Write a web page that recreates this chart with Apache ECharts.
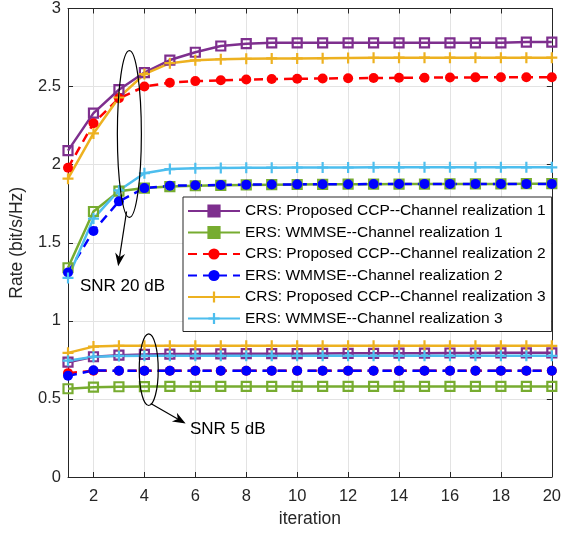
<!DOCTYPE html>
<html><head><meta charset="utf-8">
<script src="https://cdn.jsdelivr.net/npm/echarts@6/dist/echarts.min.js"></script>
<style>html,body{margin:0;padding:0;background:#fff}#c{width:564px;height:533px}</style>
</head><body><div id="c"></div><script>
const iterations = [1,2,3,4,5,6,7,8,9,10,11,12,13,14,15,16,17,18,19,20];
const xTicks = [2,4,6,8,10,12,14,16,18,20];
const yTicks = [0,0.5,1,1.5,2,2.5,3];
const seriesNames = [
  'CRS: Proposed CCP--Channel realization 1',
  'ERS: WMMSE--Channel realization 1',
  'CRS: Proposed CCP--Channel realization 2',
  'ERS: WMMSE--Channel realization 2',
  'CRS: Proposed CCP--Channel realization 3',
  'ERS: WMMSE--Channel realization 3'
];
// SNR 20 dB
const crs1_20 = [2.09,2.33,2.48,2.59,2.67,2.72,2.76,2.775,2.78,2.78,2.78,2.78,2.78,2.78,2.78,2.78,2.78,2.78,2.785,2.785];
const ers1_20 = [1.34,1.70,1.83,1.85,1.86,1.865,1.868,1.87,1.872,1.873,1.874,1.875,1.875,1.876,1.876,1.877,1.877,1.877,1.878,1.878];
const crs2_20 = [1.98,2.265,2.425,2.50,2.525,2.535,2.54,2.545,2.548,2.55,2.552,2.553,2.555,2.556,2.557,2.558,2.559,2.56,2.56,2.56];
const ers2_20 = [1.31,1.575,1.765,1.85,1.865,1.868,1.87,1.872,1.873,1.874,1.875,1.875,1.876,1.876,1.877,1.877,1.877,1.877,1.877,1.877];
const crs3_20 = [1.91,2.20,2.43,2.58,2.65,2.668,2.675,2.678,2.68,2.68,2.682,2.683,2.684,2.685,2.685,2.685,2.685,2.685,2.685,2.685];
const ers3_20 = [1.275,1.655,1.835,1.945,1.972,1.977,1.979,1.98,1.981,1.982,1.982,1.982,1.983,1.983,1.983,1.983,1.983,1.983,1.983,1.983];
// SNR 5 dB
const crs1_5 = [0.735,0.77,0.78,0.785,0.787,0.788,0.789,0.79,0.79,0.79,0.791,0.792,0.792,0.793,0.793,0.794,0.794,0.795,0.795,0.795];
const ers1_5 = [0.565,0.575,0.578,0.579,0.58,0.58,0.58,0.58,0.58,0.58,0.58,0.58,0.58,0.58,0.58,0.58,0.58,0.58,0.58,0.58];
const crs2_5 = [0.665,0.68,0.68,0.68,0.68,0.68,0.68,0.68,0.68,0.68,0.68,0.68,0.68,0.68,0.68,0.68,0.68,0.68,0.68,0.68];
const ers2_5 = [0.648,0.683,0.68,0.68,0.68,0.68,0.68,0.68,0.68,0.68,0.68,0.68,0.68,0.68,0.68,0.68,0.68,0.68,0.68,0.68];
const crs3_5 = [0.795,0.835,0.84,0.84,0.84,0.84,0.84,0.84,0.84,0.84,0.84,0.84,0.84,0.84,0.84,0.84,0.84,0.84,0.84,0.84];
const ers3_5 = [0.745,0.77,0.775,0.776,0.776,0.776,0.776,0.776,0.776,0.776,0.776,0.776,0.776,0.776,0.776,0.776,0.776,0.776,0.776,0.776];

const colors = ['#7E2F8E','#77AC30','#FF0000','#0000FF','#EDB120','#4DBEEE'];
const PLUS = 'path://M4,0H6V4H10V6H6V10H4V6H0V4H4Z';
const styles = [
  {symbol:'rect', size:9, hollow:true, dash:'solid'},
  {symbol:'rect', size:9, hollow:true, dash:'solid'},
  {symbol:'circle', size:10, hollow:false, dash:[9,6]},
  {symbol:'circle', size:10, hollow:false, dash:[9,6]},
  {symbol:PLUS, size:11, hollow:false, dash:'solid'},
  {symbol:PLUS, size:11, hollow:false, dash:'solid'}
];
const data20 = [crs1_20, ers1_20, crs2_20, ers2_20, crs3_20, ers3_20];
const data5 = [crs1_5, ers1_5, crs2_5, ers2_5, crs3_5, ers3_5];

function mk(i, vals){
  const st = styles[i];
  return {
    type:'line', name: seriesNames[i], clip:false, animation:false,
    data: iterations.map((x,k)=>[x, vals[k]]),
    symbol: st.symbol, symbolSize: st.size, showSymbol:true,
    lineStyle:{color:colors[i], width:2.5, type: st.dash},
    itemStyle: st.hollow ? {color:'rgba(255,255,255,0)', borderColor:colors[i], borderWidth:2.2}
                         : {color:colors[i], borderWidth:0},
    emphasis:{disabled:true}
  };
}
const series = [];
for (let i=0;i<6;i++) series.push(mk(i, data20[i]));
for (let i=0;i<6;i++) series.push(mk(i, data5[i]));

const FONT = '"Liberation Sans", Arial, sans-serif';
const TXT = '#262626';
const chart = echarts.init(document.getElementById('c'), null, {renderer:'canvas'});
const lineCommon = {show:true, onZero:false, lineStyle:{color:TXT, width:1}};
const tickY = {show:true, inside:true, length:5, lineStyle:{color:TXT, width:1}};
const tickX = {show:true, inside:true, length:5, customValues:xTicks, lineStyle:{color:TXT, width:1}};
chart.setOption({
  backgroundColor:'#fff',
  animation:false,
  grid:{left:66, right:8, top:5, bottom:56, containLabel:false},
  xAxis:[
    {type:'value', min:1, max:20, position:'bottom',
      name:'iteration', nameLocation:'middle', nameGap:31,
      nameTextStyle:{color:TXT, fontSize:17.5, fontFamily:FONT},
      axisLine:lineCommon, axisTick:tickX,
      axisLabel:{color:TXT, fontSize:16.5, fontFamily:FONT, margin:11, customValues:xTicks},
      splitLine:{show:true, lineStyle:{color:'#e3e3e3', width:1}}},
    {type:'value', min:1, max:20, position:'top',
      axisLine:lineCommon, axisTick:tickX,
      axisLabel:{show:false}, splitLine:{show:false}}
  ],
  yAxis:[
    {type:'value', min:0, max:3, interval:0.5, position:'left',
      name:'Rate (bit/s/Hz)', nameLocation:'middle', nameGap:42,
      nameTextStyle:{color:TXT, fontSize:17.5, fontFamily:FONT},
      axisLine:lineCommon, axisTick:tickY,
      axisLabel:{color:TXT, fontSize:16.5, fontFamily:FONT, margin:7},
      splitLine:{show:true, lineStyle:{color:'#e3e3e3', width:1}}},
    {type:'value', min:0, max:3, interval:0.5, position:'right',
      axisLine:lineCommon, axisTick:tickY,
      axisLabel:{show:false}, splitLine:{show:false}}
  ],
  legend:{
    data: seriesNames.map((n,i)=>({name:n, itemStyle: styles[i].hollow ? {color:colors[i], borderColor:colors[i]} : undefined})),
    orient:'vertical', left:183, top:197,
    itemWidth:52, itemHeight:14, itemGap:5.5,
    padding:[6,6,5,4],
    backgroundColor:'#fff', borderColor:TXT, borderWidth:1,
    textStyle:{color:'#000', fontSize:15.5, lineHeight:16, fontFamily:FONT},
    selectedMode:false
  },
  series: series
});

// annotations anchored in data coordinates
function px(x,y){ return chart.convertToPixel({gridIndex:0},[x,y]); }
function arrowHead(from, to, len, half){
  const dx=to[0]-from[0], dy=to[1]-from[1]; const L=Math.hypot(dx,dy);
  const ux=dx/L, uy=dy/L, nx=-uy, ny=ux;
  const bx=to[0]-ux*len, by=to[1]-uy*len;
  const notch=[to[0]-ux*len*0.7, to[1]-uy*len*0.7];
  return [to, [bx+nx*half, by+ny*half], notch, [bx-nx*half, by-ny*half]];
}
const e1c = px(3.41, 2.196), e1t = px(3.41, 2.73);
const e2c = px(4.17, 0.687), e2t = px(4.17, 0.916);
const a1s = px(3.30, 1.70), a1e = px(2.97, 1.35);
const a2s = px(4.25, 0.47), a2e = px(5.62, 0.342);
const t1 = px(1.47, 1.222), t2 = px(5.79, 0.305);
const r1y = e1c[1]-e1t[1], r2y = e2c[1]-e2t[1];
const h1 = arrowHead(a1s, a1e, 13, 5), h2 = arrowHead(a2s, a2e, 13, 5);
chart.setOption({graphic:[
  {type:'ellipse', shape:{cx:e1c[0], cy:e1c[1], rx:12, ry:r1y}, style:{fill:null, stroke:'#000', lineWidth:1.2}, z:100},
  {type:'ellipse', shape:{cx:e2c[0], cy:e2c[1], rx:9.5, ry:r2y}, style:{fill:null, stroke:'#000', lineWidth:1.2}, z:100},
  {type:'line', shape:{x1:a1s[0], y1:a1s[1], x2:(h1[2][0]), y2:(h1[2][1])}, style:{stroke:'#000', lineWidth:1.2}, z:100},
  {type:'polygon', shape:{points:h1}, style:{fill:'#000'}, z:100},
  {type:'line', shape:{x1:a2s[0], y1:a2s[1], x2:(h2[2][0]), y2:(h2[2][1])}, style:{stroke:'#000', lineWidth:1.2}, z:100},
  {type:'polygon', shape:{points:h2}, style:{fill:'#000'}, z:100},
  {type:'text', x:t1[0], y:t1[1], style:{text:'SNR 20 dB', fill:'#000', font:'17px '+FONT, textVerticalAlign:'middle', textAlign:'left'}, z:100},
  {type:'text', x:t2[0], y:t2[1], style:{text:'SNR 5 dB', fill:'#000', font:'17px '+FONT, textVerticalAlign:'middle', textAlign:'left'}, z:100}
]});
</script></body></html>
